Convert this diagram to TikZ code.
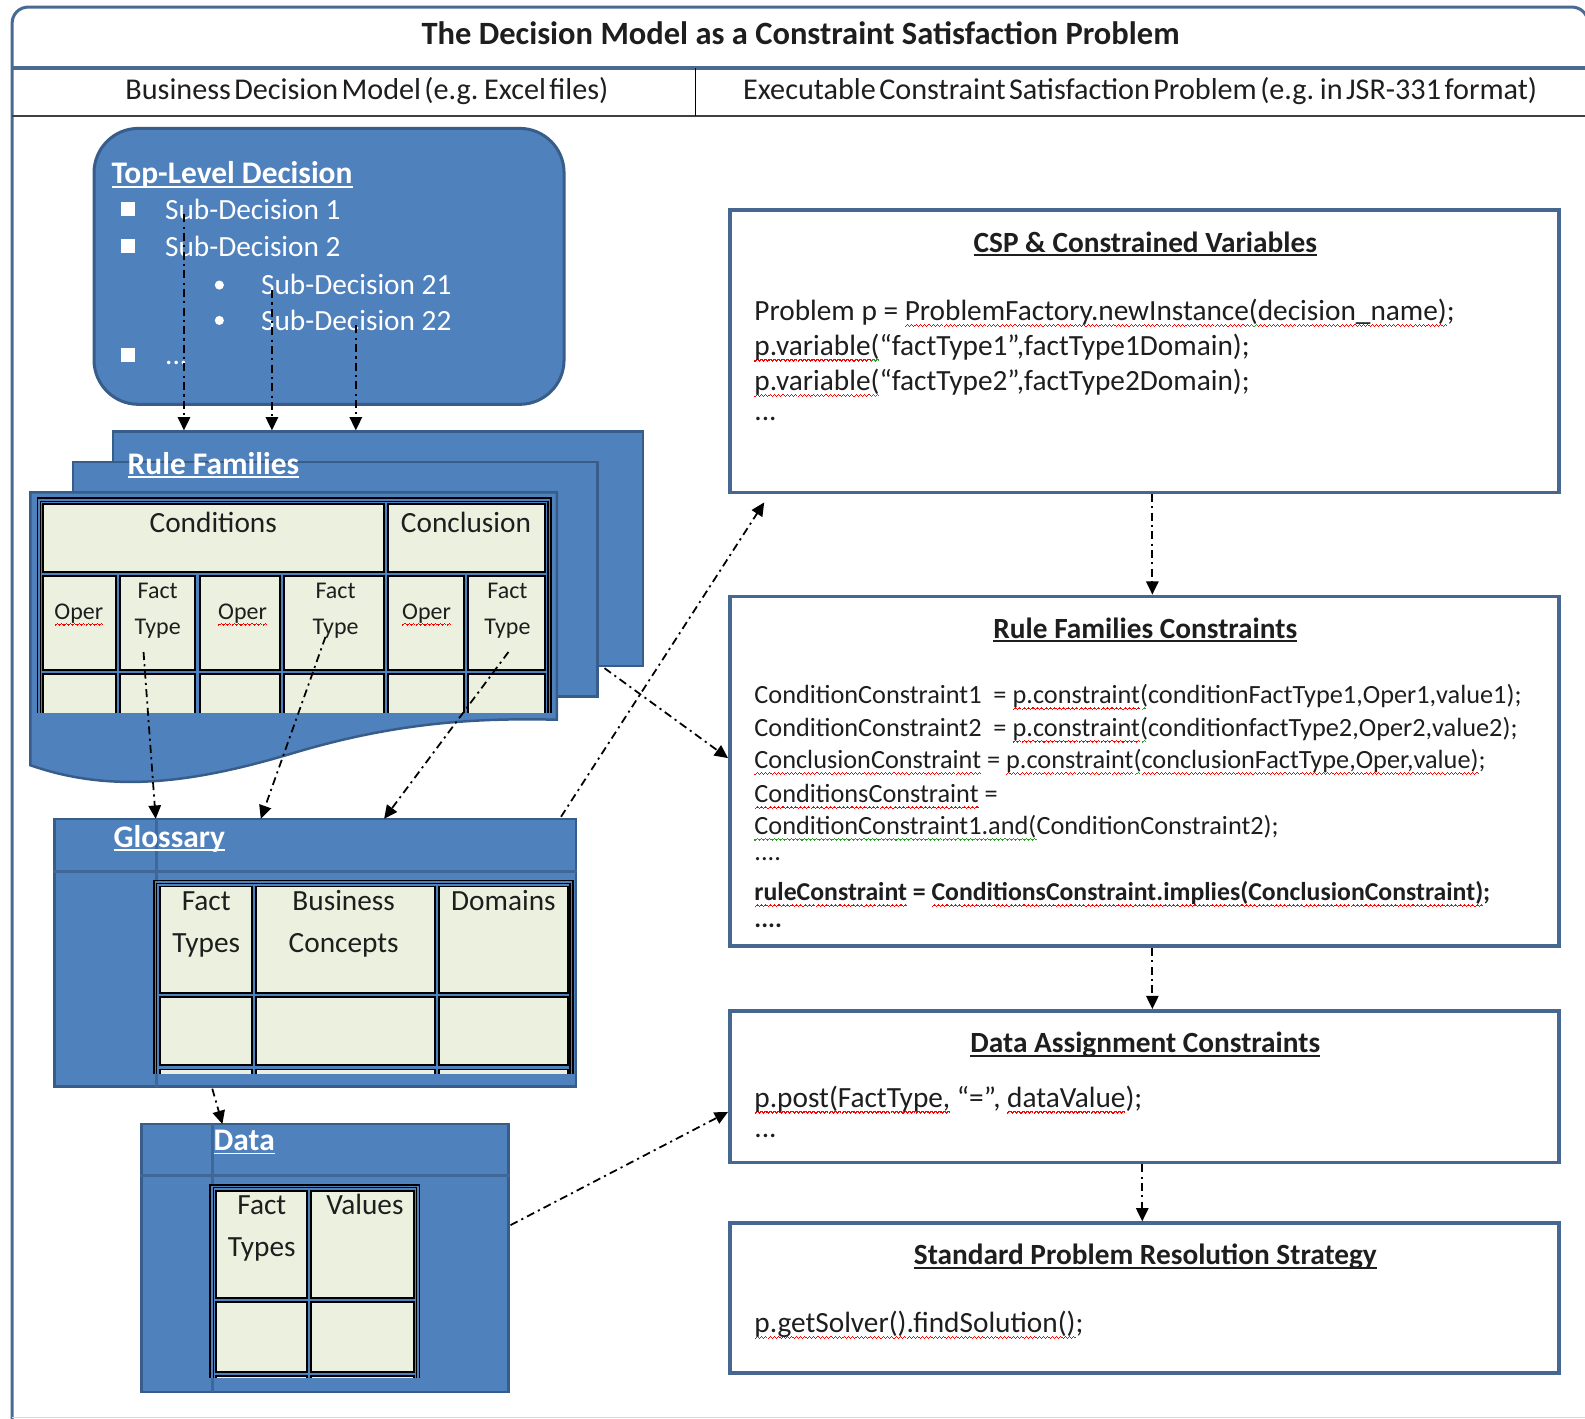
\documentclass[tikz,border=0pt]{standalone}
\usepackage{fontspec}
\setmainfont{Carlito}
\newfontfamily\tightfont{Carlito}[WordSpace=0.5]
\usetikzlibrary{arrows.meta,fit}

\definecolor{wordblue}{HTML}{4F81BD}
\definecolor{wordedge}{HTML}{385D8A}
\definecolor{gridline}{HTML}{3F6798}
\definecolor{cellfill}{HTML}{EBF1DE}
\definecolor{boxedge}{HTML}{46678F}
\definecolor{frameedge}{HTML}{4A6A92}
\definecolor{inkgray}{HTML}{1E1E1E}
\definecolor{spellgreen}{HTML}{2E9A2E}

% spell-check wave under a word, and a tight underline
\newsavebox\wavebox
\newcommand\wavepiece{\rule{0.6pt}{0.7pt}\rule[0.5pt]{0.6pt}{0.7pt}\rule[1pt]{0.6pt}{0.7pt}\rule[0.5pt]{0.6pt}{0.7pt}}
\newcommand\sq[2][red]{\sbox\wavebox{#2}\rlap{\textcolor{#1}{\raisebox{-3.6pt}[0pt][0pt]{\hbox to\wd\wavebox{\xleaders\hbox{\wavepiece}\hfill}}}}\usebox\wavebox}
\newcommand\ulx[1]{\sbox\wavebox{#1}\rlap{\rule[-2.3pt]{\wd\wavebox}{1pt}}\usebox\wavebox}

\tikzset{
  base/.style={inner sep=0pt, text depth=0pt},
  f165/.style={base, font=\fontsize{16.5}{20}\selectfont, text height=10.6pt},
  f148/.style={base, font=\fontsize{14.8}{18}\selectfont, text height=9.5pt},
  f148b/.style={base, font=\bfseries\fontsize{14.5}{18}\selectfont, text height=9.4pt},
  f135/.style={base, font=\fontsize{13.5}{16}\selectfont, text height=8.7pt},
  fhead/.style={base, font=\tightfont\fontsize{17}{20}\selectfont, text height=11pt},
  ftitle/.style={base, font=\bfseries\fontsize{18.3}{22}\selectfont, text height=11.8pt},
  fblue/.style={base, font=\bfseries\fontsize{17.7}{21}\selectfont, text height=11.4pt, text=white},
  fbox/.style={base, font=\bfseries\fontsize{16.5}{20}\selectfont, text height=10.6pt, text=inkgray},
}

\begin{document}
\begin{tikzpicture}[x=0.02cm, y=-0.02cm,
  sheet/.style={fill=wordblue, draw=wordedge, line width=1.4pt, inner sep=0pt},
  cell/.style={fill=cellfill, draw=black, line width=1.1pt},
  rbox/.style={fill=white, draw=boxedge, line width=2pt, inner sep=0pt},
  conn/.style={draw=black, line width=1pt, dash pattern=on 4.5pt off 2.4pt on 1.2pt off 2.4pt,
               -{Triangle[length=7.5pt,width=7pt]}},
  sqr/.style={fill=white, minimum size=0.28cm, inner sep=0pt},
  dotb/.style={circle, fill=white, minimum size=0.18cm, inner sep=0pt},
  ink/.style={text=inkgray},
]
\useasboundingbox (0,0) rectangle (1568,1403);
\clip (0,0) rectangle (1568,1403);

% ---------- frame with its two header rows ----------
\draw[frameedge, line width=1.7pt, rounded corners=9pt] (12,1420) rectangle (1571,7);
\draw[black!15, line width=0.6pt] (12,1402) -- (1571,1402);
\draw[frameedge, line width=2.2pt] (12,67) -- (1571,67);
\draw[black!75, line width=1.3pt] (12,115) -- (1571,115);
\draw[black, line width=0.8pt] (688,67) -- (688,115);

\node[ftitle, ink] (title) at (792,34) {The Decision Model as a Constraint Satisfaction Problem};
\node[fhead, ink] (leftcol) at (363,89) {Business Decision Model (e.g. Excel files)};
\node[fhead, ink] (rightcol) at (1128,89) {Executable Constraint Satisfaction Problem (e.g. in JSR-331 format)};

% ---------- top-level decision ----------
\node[sheet, rounded corners=25pt, line width=1.7pt, fit={(93,127) (558,400)}] (tld) {};
\node[fblue, anchor=west] (tldt) at (110,172) {\ulx{Top-Level Decision}};
\node[sqr] (q1) at (127,207) {};
\node[sqr] (q2) at (127,243) {};
\node[sqr] (q3) at (127,351) {};
\node[dotb] (d1) at (217,282) {};
\node[dotb] (d2) at (217,317) {};
\node[f165, text=white, anchor=west] (sd1) at (163,208) {Sub-Decision 1};
\node[f165, text=white, anchor=west] (sd2) at (163,244) {Sub-Decision 2};
\node[f165, text=white, anchor=west] (sd21) at (258,282) {Sub-Decision 21};
\node[f165, text=white, anchor=west] (sd22) at (258,318) {Sub-Decision 22};
\node[f165, text=white, anchor=west] (sdx) at (163,351) {...};

% ---------- rule families (three stacked sheets) ----------
\node[sheet, fit={(112,427) (636,659)}] (rfback) {};
\node[sheet, fit={(72,457) (591,689)}] (rfmid) {};
\draw[sheet] (30,487) -- (551,487) -- (551,712)
  .. controls (470,710) and (390,715) .. (290,745)
  .. controls (190,775) and (110,785) .. (30,757) -- cycle;
\begin{scope}
  \clip (0,480) rectangle (600,705);
  \draw[black, line width=1pt, fill=wordblue] (37,493) rectangle (545,730);
  \draw[black, line width=0.8pt] (40,496) rectangle (542,730);
  \draw[cell] (43,499) rectangle (380,566);
  \draw[cell] (384,499) rectangle (539,566);
  \foreach \xa/\xb in {43/115,119/193,198/277,281/380,384/459,463/539}{
    \draw[cell] (\xa,570) rectangle (\xb,663);
    \draw[cell] (\xa,667) rectangle (\xb,730);
  }
\end{scope}
\node[fblue, anchor=west] (rft) at (126,459) {\ulx{Rule Families}};
\node[f165, ink] (cond) at (211,517) {Conditions};
\node[f165, ink] (concl) at (461,517) {Conclusion};
\node[f135, ink] (op1) at (78,605) {\sq{Oper}};
\node[f135, ink] (op2) at (240,605) {\sq{Oper}};
\node[f135, ink] (op3) at (422,605) {\sq{Oper}};
\node[f135, ink] (fa1) at (156,584) {Fact};
\node[f135, ink] (ty1) at (156,620) {Type};
\node[f135, ink] (fa2) at (332,584) {Fact};
\node[f135, ink] (ty2) at (332,620) {Type};
\node[f135, ink] (fa3) at (502,584) {Fact};
\node[f135, ink] (ty3) at (502,620) {Type};

% ---------- glossary ----------
\node[sheet, fit={(54,810) (570,1075)}] (gl) {};
\draw[gridline, line width=2pt] (gl.west |- 0,862) -- (gl.east |- 0,862);
\draw[gridline, line width=1.5pt] (155,810) -- (155,1075);
\begin{scope}
  \clip (0,860) rectangle (600,1062);
  \draw[black, line width=1pt, fill=wordblue] (152,871) rectangle (567,1090);
  \draw[black, line width=0.8pt] (155,874) rectangle (564,1090);
  \foreach \xa/\xb in {158/249,253/430,434/562}{
    \draw[cell] (\xa,877) rectangle (\xb,982);
    \draw[cell] (\xa,986) rectangle (\xb,1054);
    \draw[cell] (\xa,1058) rectangle (\xb,1090);
  }
\end{scope}
\node[fblue, anchor=west] (glt) at (112,828) {\ulx{Glossary}};
\node[f165, ink] (gfa) at (204,891) {Fact};
\node[f165, ink] (gty) at (204,933) {Types};
\node[f165, ink] (gbu) at (340,891) {Business};
\node[f165, ink] (gco) at (340,933) {Concepts};
\node[f165, ink] (gdo) at (498,891) {Domains};

% ---------- data ----------
\node[sheet, fit={(140,1112) (503,1377)}] (dt) {};
\draw[gridline, line width=2pt] (dt.west |- 0,1163) -- (dt.east |- 0,1163);
\draw[gridline, line width=1.5pt] (210,1112) -- (210,1377);
\begin{scope}
  \clip (0,1160) rectangle (600,1363);
  \draw[black, line width=1pt, fill=wordblue] (208,1172) rectangle (415,1400);
  \draw[black, line width=0.8pt] (211,1175) rectangle (412,1400);
  \foreach \xa/\xb in {214/304,308/410}{
    \draw[cell] (\xa,1178) rectangle (\xb,1284);
    \draw[cell] (\xa,1288) rectangle (\xb,1357);
    \draw[cell] (\xa,1361) rectangle (\xb,1400);
  }
\end{scope}
\node[fblue, anchor=west] (dtt) at (211,1128) {\ulx{Data}};
\node[f165, ink] (dfa) at (259,1192) {Fact};
\node[f165, ink] (dty) at (259,1234) {Types};
\node[f165, ink] (dva) at (361,1192) {Values};

% ---------- executable CSP boxes ----------
\node[rbox, fit={(722,208) (1542,487)}] (csp) {};
\node[rbox, fit={(722,590) (1542,936)}] (rfc) {};
\node[rbox, fit={(722,1000) (1542,1150)}] (dac) {};
\node[rbox, fit={(722,1210) (1542,1358)}] (sprs) {};

\node[fbox] (cspt) at (1133,240) {\ulx{CSP \& Constrained Variables}};
\node[f165, ink, anchor=west] (csp1) at (746,308) {Problem p = \sq{ProblemFactory.newInstance}\sq[spellgreen]{(}\sq{decision\_name)};};
\node[f165, ink, anchor=west] (csp2) at (746,342) {\sq{p.variable}\sq[spellgreen]{(}“factType1”,factType1Domain);};
\node[f165, ink, anchor=west] (csp3) at (746,377) {\sq{p.variable}\sq[spellgreen]{(}“factType2”,factType2Domain);};
\node[f165, ink, anchor=west] (csp4) at (746,407) {...};

\node[fbox] (rfct) at (1133,622) {\ulx{Rule Families Constraints}};
\node[f148, ink, anchor=west] (rfc1) at (746,688) {ConditionConstraint1\ \ = \sq{p.constraint}\sq[spellgreen]{(}conditionFactType1,Oper1,value1);};
\node[f148, ink, anchor=west] (rfc2) at (746,720) {ConditionConstraint2\ \ = \sq{p.constraint}\sq[spellgreen]{(}conditionfactType2,Oper2,value2);};
\node[f148, ink, anchor=west] (rfc3) at (746,752) {\sq{ConclusionConstraint} = \sq{p.constraint}\sq[spellgreen]{(}\sq{conclusionFactType,Oper,value)};};
\node[f148, ink, anchor=west] (rfc4) at (746,786) {\sq{ConditionsConstraint} =};
\node[f148, ink, anchor=west] (rfc5) at (746,817) {\sq[spellgreen]{ConditionConstraint1.and(}ConditionConstraint2);};
\node[f148, ink, anchor=west] (rfc6) at (746,843) {....};
\node[f148b, ink, anchor=west] (rfc7) at (746,883) {\sq{ruleConstraint} = \sq{ConditionsConstraint.implies(ConclusionConstraint)};};
\node[f148b, ink, anchor=west] (rfc8) at (746,909) {....};

\node[fbox] (dact) at (1133,1032) {\ulx{Data Assignment Constraints}};
\node[f165, ink, anchor=west] (dac1) at (746,1086) {\sq{p.post(FactType,} “=”, \sq{dataValue});};
\node[f165, ink, anchor=west] (dac2) at (746,1116) {...};

\node[fbox] (sprst) at (1133,1242) {\ulx{Standard Problem Resolution Strategy}};
\node[f165, ink, anchor=west] (sprs1) at (746,1309) {\sq{p.getSolver()}\sq{.findSolution()};};

% ---------- connectors ----------
\coordinate (p1) at (182,212);
\coordinate (p2) at (269,287);
\coordinate (p3) at (352,322);
\draw[conn] (p1) -- (p1 |- rfback.north);
\draw[conn] (p2) -- (p2 |- rfback.north);
\draw[conn] (p3) -- (p3 |- rfback.north);

\coordinate (c1) at (142,645);
\coordinate (c2) at (322,630);
\coordinate (c3) at (503,645);
\coordinate (g1) at (154,810);
\coordinate (g2) at (258,810);
\coordinate (g3) at (380,810);
\draw[conn] (c1) -- (g1);
\draw[conn] (c2) -- (g2);
\draw[conn] (c3) -- (g3);

\coordinate (gbot) at (210,1077);
\coordinate (dtop) at (220,1112);
\draw[conn] (gbot) -- (dtop);

\coordinate (gout) at (555,808);
\coordinate (cspin) at (756,497);
\draw[conn] (gout) -- (cspin);

\coordinate (rfout) at (598,661);
\coordinate (ry) at (0,750);
\draw[conn] (rfout) -- (rfc.west |- ry);

\coordinate (dout) at (505,1212);
\coordinate (dy) at (0,1100);
\draw[conn] (dout) -- (dac.west |- dy);

\coordinate (ax) at (1140,0);
\coordinate (bx) at (1130,0);
\draw[conn] (csp.south -| ax) -- (rfc.north -| ax);
\draw[conn] (rfc.south -| ax) -- (dac.north -| ax);
\draw[conn] (dac.south -| bx) -- (sprs.north -| bx);
\end{tikzpicture}
\end{document}
